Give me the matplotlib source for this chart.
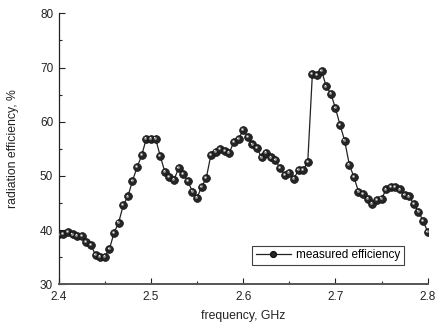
import matplotlib
matplotlib.use("Agg")
import matplotlib.pyplot as plt
import matplotlib.transforms as mtransforms
from matplotlib.ticker import MultipleLocator, FormatStrFormatter
from matplotlib.lines import Line2D

frequency = [2.400, 2.405, 2.410, 2.415, 2.420, 2.425, 2.430, 2.435, 2.440, 2.445,
             2.450, 2.455, 2.460, 2.465, 2.470, 2.475, 2.480, 2.485, 2.490, 2.495,
             2.500, 2.505, 2.510, 2.515, 2.520, 2.525, 2.530, 2.535, 2.540, 2.545,
             2.550, 2.555, 2.560, 2.565, 2.570, 2.575, 2.580, 2.585, 2.590, 2.595,
             2.600, 2.605, 2.610, 2.615, 2.620, 2.625, 2.630, 2.635, 2.640, 2.645,
             2.650, 2.655, 2.660, 2.665, 2.670, 2.675, 2.680, 2.685, 2.690, 2.695,
             2.700, 2.705, 2.710, 2.715, 2.720, 2.725, 2.730, 2.735, 2.740, 2.745,
             2.750, 2.755, 2.760, 2.765, 2.770, 2.775, 2.780, 2.785, 2.790, 2.795,
             2.800]
efficiency = [39.2, 39.3, 39.7, 39.2, 39.0, 38.9, 37.8, 37.2, 35.4, 35.1,
              35.1, 36.5, 39.5, 41.4, 44.6, 46.2, 49.1, 51.6, 53.8, 56.9,
              56.9, 56.9, 53.7, 50.8, 49.8, 49.3, 51.4, 50.3, 49.0, 47.1,
              46.0, 48.0, 49.6, 53.9, 54.5, 54.9, 54.6, 54.3, 56.3, 56.8,
              58.5, 57.2, 55.8, 55.1, 53.4, 54.3, 53.4, 52.9, 51.4, 50.2,
              50.6, 49.5, 51.1, 51.1, 52.6, 68.8, 68.6, 69.4, 66.5, 65.2,
              62.5, 59.4, 56.5, 52.1, 49.8, 47.1, 46.6, 45.8, 44.9, 45.5,
              45.8, 47.5, 48.0, 48.0, 47.5, 46.5, 46.2, 44.8, 43.4, 41.7,
              39.7]

series_label = "measured efficiency"
x_label = "frequency, GHz"
y_label = "radiation efficiency, %"

plt.rcParams['font.family'] = ['Liberation Sans', 'DejaVu Sans']

fig = plt.figure(figsize=(4.41, 3.27), dpi=100)
ax = fig.add_axes([0.1331, 0.1306, 0.8367, 0.8287])

# main line with dark sphere markers
ax.plot(frequency, efficiency, color='#222222', linewidth=0.9, marker='o',
        markersize=5.6, markerfacecolor='#262626', markeredgecolor='#111111',
        markeredgewidth=0.5, zorder=3)
# highlight on the spheres
hl = mtransforms.offset_copy(ax.transData, fig=fig, x=-0.9, y=0.9, units='dots')
ax.plot(frequency, efficiency, linestyle='none', marker='o', markersize=2.0,
        markerfacecolor='#9a9a9a', markeredgecolor='none', transform=hl, zorder=4)
hl2 = mtransforms.offset_copy(ax.transData, fig=fig, x=-1.2, y=1.2, units='dots')
ax.plot(frequency, efficiency, linestyle='none', marker='o', markersize=0.9,
        markerfacecolor='#eeeeee', markeredgecolor='none', transform=hl2, zorder=5)

ax.set_xlim(2.4, 2.8)
ax.set_ylim(30, 80)
ax.xaxis.set_major_locator(MultipleLocator(0.1))
ax.xaxis.set_minor_locator(MultipleLocator(0.05))
ax.yaxis.set_major_locator(MultipleLocator(10))
ax.yaxis.set_minor_locator(MultipleLocator(5))
ax.xaxis.set_major_formatter(FormatStrFormatter('%.1f'))

for s in ['top', 'right']:
    ax.spines[s].set_visible(False)
ax.spines['left'].set_linewidth(0.9)
ax.spines['left'].set_color('#222222')
ax.spines['bottom'].set_linewidth(1.4)
ax.spines['bottom'].set_color('#555555')

ax.tick_params(which='major', direction='in', length=4, width=0.8, labelsize=8.5,
               colors='#222222')
ax.tick_params(which='minor', direction='in', length=2.5, width=0.8, colors='#222222')
ax.tick_params(axis='x', which='major', pad=5)
ax.tick_params(axis='y', which='major', pad=4)

ax.set_xlabel(x_label, fontsize=8.8, labelpad=5, color='#222222')
ax.set_ylabel(y_label, fontsize=8.8, labelpad=15, color='#222222')

handle = Line2D([], [], color='#222222', linewidth=0.9, marker='o', markersize=4.2,
                markerfacecolor='#262626', markeredgecolor='#111111')
leg = ax.legend([handle], [series_label], loc='lower right',
                bbox_to_anchor=(0.936, 0.072), fontsize=8.5, frameon=True,
                fancybox=False, edgecolor='#111111', handlelength=3.0,
                handletextpad=0.45, borderpad=0.3, borderaxespad=0.0,
                numpoints=1)
leg.get_frame().set_linewidth(0.8)

fig.savefig('out.png', dpi=100)
